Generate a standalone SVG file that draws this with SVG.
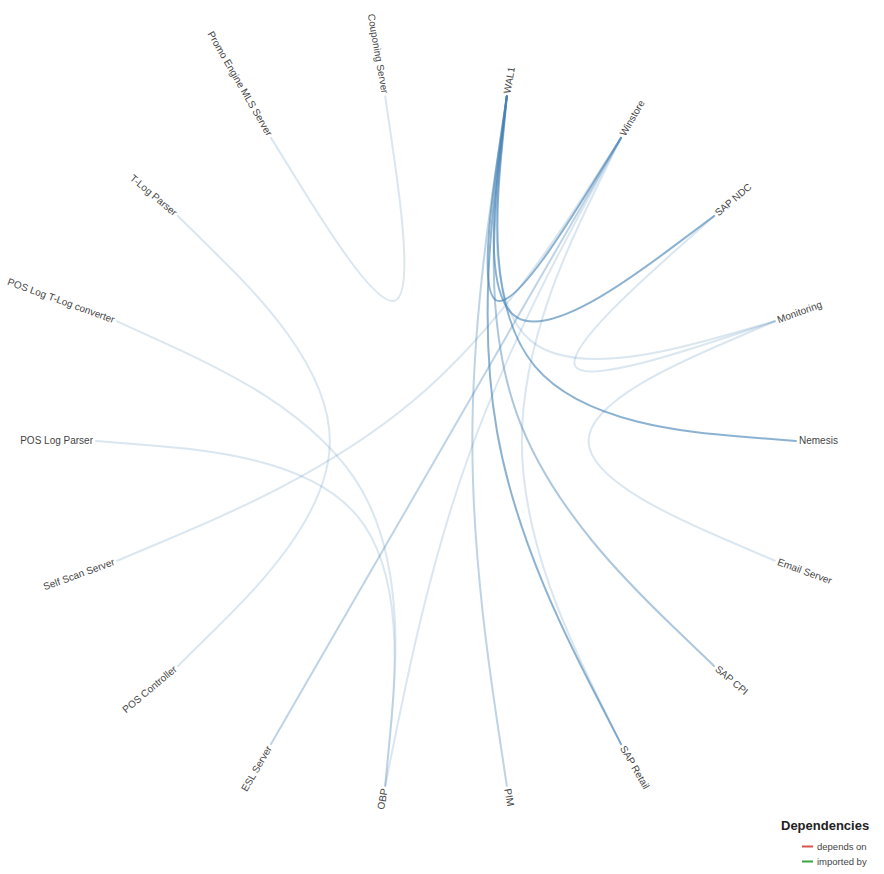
<svg xmlns="http://www.w3.org/2000/svg" width="884" height="874" viewBox="0 0 884 874">
<style>
.lnk{fill:none;stroke:#4682b4;stroke-width:2;stroke-linecap:round}
.o1{stroke-opacity:.2}
.o2{stroke-opacity:.35}
.o3{stroke-opacity:.45}
.o4{stroke-opacity:.62}
.lbl{font-family:"Liberation Sans",Arial,sans-serif;font-size:10px;fill:#444}
.lt{font-family:"Liberation Sans",Arial,sans-serif;font-size:13px;font-weight:bold;fill:#222}
.li{font-family:"Liberation Sans",Arial,sans-serif;font-size:9.5px;fill:#444}
</style>
<rect width="884" height="874" fill="#fff"/>
<g id="links" transform="translate(446,441)">
<path class="lnk o4" d="M60.78,-344.68 L53.60,-295.34 C46.41,-245.98 32.05,-147.28 51.09,-140.36 C70.12,-133.43 122.56,-218.26 148.78,-260.69 L175,-303.11"/>
<path class="lnk o4" d="M60.78,-344.68 L54.76,-294.36 C48.74,-244.03 36.70,-143.37 71.26,-123.43 C105.81,-103.47 186.96,-164.22 227.54,-194.60 L268.11,-224.98"/>
<path class="lnk o1" d="M60.78,-344.68 L55.52,-293.04 C50.26,-241.40 39.74,-138.11 84.43,-100.62 C129.11,-63.12 229.00,-91.41 278.95,-105.56 L328.89,-119.71"/>
<path class="lnk o4" d="M60.78,-344.68 L55.78,-291.55 C50.79,-238.41 40.80,-132.12 89.00,-74.68 C137.21,-17.23 243.60,-8.62 296.80,-4.31 L350,0"/>
<path class="lnk o3" d="M60.78,-344.68 L54.76,-288.74 C48.74,-232.78 36.70,-120.88 71.26,-25.94 C105.81,69.00 186.96,146.99 227.54,185.98 L268.11,224.98"/>
<path class="lnk o4" d="M60.78,-344.68 L53.60,-287.76 C46.41,-230.83 32.05,-116.97 51.09,-9.01 C70.12,98.96 122.56,201.03 148.78,252.07 L175,303.11"/>
<path class="lnk o2" d="M60.78,-344.68 L52.17,-287.24 C43.56,-229.79 26.34,-114.89 26.34,0 C26.34,114.89 43.56,229.79 52.17,287.24 L60.78,344.68"/>
<path class="lnk o1" d="M328.89,-119.71 L281.54,-104.07 C234.19,-88.42 139.48,-57.13 129.35,-74.68 C119.22,-92.22 193.67,-158.60 230.89,-191.79 L268.11,-224.98"/>
<path class="lnk o1" d="M328.89,-119.71 L282.30,-99.76 C235.70,-79.80 142.52,-39.90 142.52,0 C142.52,39.90 235.70,79.80 282.30,99.76 L328.89,119.71"/>
<path class="lnk o1" d="M175,-303.11 L150.21,-252.59 C125.42,-202.07 75.83,-101.04 75.83,0 C75.83,101.04 125.42,202.07 150.21,252.59 L175,303.11"/>
<path class="lnk o1" d="M175,-303.11 L143.91,-254.88 C112.82,-206.66 50.64,-110.21 -33.34,-39.74 C-117.32,30.73 -223.11,75.21 -276.00,97.47 L-328.89,119.71"/>
<path class="lnk o2" d="M175,-303.11 L-175,303.11"/>
<path class="lnk o1" d="M175,-303.11 L147.26,-252.07 C119.53,-201.03 64.04,-98.96 24.75,9.01 C-14.55,116.97 -37.66,230.83 -49.22,287.76 L-60.78,344.68"/>
<path class="lnk o1" d="M-60.78,-344.68 L-53.60,-295.34 C-46.41,-245.98 -32.05,-147.28 -51.09,-140.36 C-70.12,-133.43 -122.56,-218.26 -148.78,-260.69 L-175,-303.11"/>
<path class="lnk o1" d="M-268.11,-224.98 L-230.13,-187.48 C-192.15,-149.98 -116.18,-74.99 -116.18,0 C-116.18,74.99 -192.15,149.98 -230.13,187.48 L-268.11,224.98"/>
<path class="lnk o1" d="M-328.89,-119.71 L-278.95,-96.95 C-229.00,-74.18 -129.11,-28.65 -84.43,48.74 C-39.74,126.14 -50.26,235.41 -55.52,290.05 L-60.78,344.68"/>
<path class="lnk o1" d="M-350,0 L-296.80,4.31 C-243.60,8.62 -137.21,17.23 -89.00,74.68 C-40.80,132.12 -50.79,238.41 -55.78,291.55 L-60.78,344.68"/>
</g>
<g id="nodes" transform="translate(446,441)">
<g id="n-wal1" transform="rotate(-80) translate(353,0)"><text class="lbl" dy="0.31em">WAL1</text></g>
<g id="n-winstore" transform="rotate(-60) translate(353,0)"><text class="lbl" dy="0.31em">Winstore</text></g>
<g id="n-sapndc" transform="rotate(-40) translate(353,0)"><text class="lbl" dy="0.31em">SAP NDC</text></g>
<g id="n-monitoring" transform="rotate(-20) translate(353,0)"><text class="lbl" dy="0.31em">Monitoring</text></g>
<g id="n-nemesis" transform="rotate(0) translate(353,0)"><text class="lbl" dy="0.31em">Nemesis</text></g>
<g id="n-email" transform="rotate(20) translate(353,0)"><text class="lbl" dy="0.31em">Email Server</text></g>
<g id="n-sapcpi" transform="rotate(40) translate(353,0)"><text class="lbl" dy="0.31em">SAP CPI</text></g>
<g id="n-sapretail" transform="rotate(60) translate(353,0)"><text class="lbl" dy="0.31em">SAP Retail</text></g>
<g id="n-pim" transform="rotate(80) translate(353,0)"><text class="lbl" dy="0.31em">PIM</text></g>
<g id="n-obp" transform="rotate(100) translate(353,0) rotate(180)"><text class="lbl" dy="0.31em" text-anchor="end">OBP</text></g>
<g id="n-esl" transform="rotate(120) translate(353,0) rotate(180)"><text class="lbl" dy="0.31em" text-anchor="end">ESL Server</text></g>
<g id="n-posctrl" transform="rotate(140) translate(353,0) rotate(180)"><text class="lbl" dy="0.31em" text-anchor="end">POS Controller</text></g>
<g id="n-selfscan" transform="rotate(160) translate(353,0) rotate(180)"><text class="lbl" dy="0.31em" text-anchor="end">Self Scan Server</text></g>
<g id="n-poslogparser" transform="rotate(180) translate(353,0) rotate(180)"><text class="lbl" dy="0.31em" text-anchor="end">POS Log Parser</text></g>
<g id="n-poslogconv" transform="rotate(200) translate(353,0) rotate(180)"><text class="lbl" dy="0.31em" text-anchor="end">POS Log T-Log converter</text></g>
<g id="n-tlogparser" transform="rotate(220) translate(353,0) rotate(180)"><text class="lbl" dy="0.31em" text-anchor="end">T-Log Parser</text></g>
<g id="n-promo" transform="rotate(240) translate(353,0) rotate(180)"><text class="lbl" dy="0.31em" text-anchor="end">Promo Engine MLS Server</text></g>
<g id="n-couponing" transform="rotate(260) translate(353,0) rotate(180)"><text class="lbl" dy="0.31em" text-anchor="end">Couponing Server</text></g>
</g>
<g id="legend">
<text class="lt" x="781" y="830">Dependencies</text>
<line x1="802" y1="846.5" x2="813" y2="846.5" stroke="#d9534f" stroke-width="2"/>
<text class="li" x="817" y="850">depends on</text>
<line x1="802" y1="861.5" x2="813" y2="861.5" stroke="#3aa346" stroke-width="2"/>
<text class="li" x="817" y="865">imported by</text>
</g>
</svg>
